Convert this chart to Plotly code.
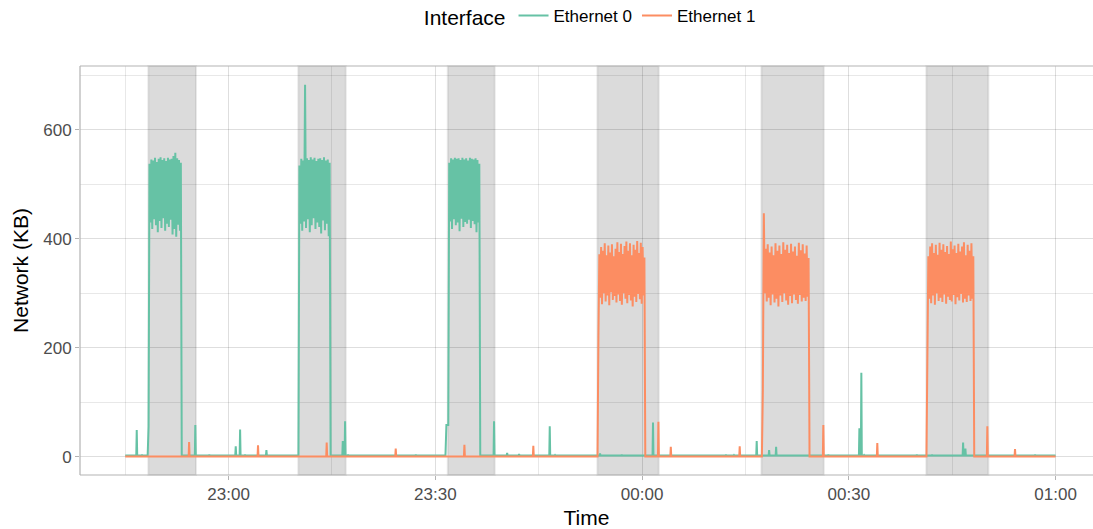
import plotly.graph_objects as go
from datetime import datetime, timedelta

# ---------------- data ----------------
series_names = ["Ethernet 0", "Ethernet 1"]
series_colors = ["#66C2A5", "#FC8D62"]

record_start = "22:45:00"
record_end = "01:00:00"
eth0_baseline = 2.0
eth1_baseline = 0.5

eth0_spike_times = ["22:46:40", "22:47:26", "22:55:10", "22:57:12", "23:01:02", "23:01:40",
                    "23:02:23", "23:05:29", "23:16:34", "23:16:54", "23:17:20", "23:27:10",
                    "23:38:31", "23:40:25", "23:42:09", "23:46:36", "23:47:22", "23:53:54",
                    "23:57:03", "00:01:35", "00:12:10", "00:13:20", "00:16:38", "00:18:26",
                    "00:19:27", "00:27:02", "00:31:32", "00:31:49", "00:32:13", "00:39:52",
                    "00:42:05", "00:46:35", "00:46:55", "00:57:02"]
eth0_spike_values = [49, 4, 58, 4, 19, 50,
                     4, 12, 29, 65, 4, 4,
                     65, 7, 5, 56, 3, 6,
                     4, 63, 4, 3, 29, 12,
                     18, 4, 52, 154, 3, 4,
                     4, 26, 15, 4]

eth1_spike_times = ["22:54:16", "23:04:16", "23:14:14", "23:24:15", "23:34:13", "23:44:13",
                    "00:02:22", "00:04:10", "00:14:10", "00:26:18", "00:34:08", "00:50:06",
                    "00:54:07"]
eth1_spike_values = [27, 21, 26, 15, 22, 20,
                     64, 18, 19, 58, 25, 56,
                     14]

eth0_burst_start = ["22:48:15", "23:10:08", "23:31:28"]
eth0_burst_end = ["22:53:12", "23:14:48", "23:36:31"]
eth0_burst_values = [
    [2, 55, 538, 430, 546, 418, 544, 436, 549, 425, 541, 412, 547, 433, 550, 420, 545, 438, 548,
     415, 543, 428, 549, 422, 546, 435, 547, 408, 552, 418, 558, 404, 548, 426, 545, 415, 540, 2],
    [2, 535, 428, 547, 415, 544, 432, 683, 420, 548, 436, 545, 412, 550, 425, 546, 438, 549, 418,
     543, 430, 547, 422, 548, 410, 545, 434, 550, 416, 544, 428, 546, 405, 540, 2],
    [2, 58, 58, 58, 540, 432, 548, 418, 546, 436, 549, 425, 547, 430, 548, 414, 545, 437, 549,
     422, 546, 431, 548, 428, 544, 435, 549, 420, 547, 433, 546, 427, 548, 412, 545, 430, 538, 2],
]

eth1_burst_start = ["23:53:32", "00:17:23", "00:41:16"]
eth1_burst_end = ["00:00:28", "00:24:18", "00:48:12"]
eth1_burst_values = [
    [0.5, 220, 372, 292, 385, 280, 378, 300, 392, 285, 370, 296, 388, 278, 375, 302, 390, 288,
     368, 295, 382, 283, 394, 298, 376, 286, 391, 279, 372, 300, 387, 290, 395, 282, 378, 297,
     392, 287, 370, 276, 389, 294, 380, 284, 396, 299, 374, 289, 393, 281, 385, 296, 366, 0.5],
    [0.5, 122, 447, 300, 382, 285, 390, 292, 375, 278, 386, 298, 370, 283, 392, 290, 378, 276,
     388, 296, 372, 284, 394, 300, 380, 287, 389, 279, 374, 295, 391, 282, 377, 298, 386, 288,
     369, 281, 393, 297, 379, 285, 390, 292, 373, 286, 388, 294, 365, 0.5],
    [0.5, 178, 368, 290, 386, 282, 392, 296, 374, 279, 389, 300, 371, 286, 393, 292, 380, 284,
     390, 298, 376, 281, 387, 294, 372, 288, 395, 285, 381, 297, 388, 280, 374, 293, 391, 287,
     377, 299, 386, 283, 394, 290, 370, 284, 389, 296, 378, 286, 392, 290, 368, 0.5],
]

shade_start = ["22:48:21", "23:10:07", "23:31:48", "23:53:31", "00:17:19", "00:41:15"]
shade_end = ["22:55:16", "23:17:00", "23:38:37", "00:02:25", "00:26:22", "00:50:15"]

x_tick_labels = ["23:00", "23:30", "00:00", "00:30", "01:00"]
x_minor_labels = ["22:45", "23:15", "23:45", "00:15", "00:45"]
y_ticks = [0, 200, 400, 600]
y_minor = [100, 300, 500, 700]
x_view = ["22:38:26", "01:05:26"]
y_view = [-33.6, 717.5]


# ---------------- helpers ----------------
def ts(hms):
    parts = [int(p) for p in hms.split(":")]
    while len(parts) < 3:
        parts.append(0)
    h, m, s = parts
    d = datetime(2024, 3, 1) + timedelta(hours=h, minutes=m, seconds=s)
    if h < 12:
        d += timedelta(days=1)
    return d


def build(baseline, spike_t, spike_v, b_start, b_end, b_vals):
    pts = [(ts(record_start), baseline), (ts(record_end), baseline)]
    half = timedelta(seconds=4)
    for t, v in zip(spike_t, spike_v):
        tt = ts(t)
        pts += [(tt - half, baseline), (tt, v), (tt + half, baseline)]
    for s, e, vals in zip(b_start, b_end, b_vals):
        t0, t1 = ts(s), ts(e)
        n = len(vals)
        step = (t1 - t0) / (n - 1)
        pts += [(t0 + step * i, v) for i, v in enumerate(vals)]
    pts.sort(key=lambda p: p[0])
    return [p[0] for p in pts], [p[1] for p in pts]


x0, y0 = build(eth0_baseline, eth0_spike_times, eth0_spike_values,
               eth0_burst_start, eth0_burst_end, eth0_burst_values)
x1, y1 = build(eth1_baseline, eth1_spike_times, eth1_spike_values,
               eth1_burst_start, eth1_burst_end, eth1_burst_values)

fig = go.Figure()
for name, color, xs, ys in zip(series_names, series_colors, [x0, x1], [y0, y1]):
    fig.add_trace(go.Scatter(x=xs, y=ys, mode="lines", name=name,
                             line=dict(color=color, width=2)))

for s, e in zip(shade_start, shade_end):
    fig.add_shape(type="rect", xref="x", yref="paper", x0=ts(s), x1=ts(e), y0=0, y1=1,
                  fillcolor="rgba(156,156,156,0.36)", line=dict(color="rgba(140,140,140,0.18)", width=2),
                  layer="below")

border = "#B3B3B3"
for (xa, ya, xb, yb) in [(0, 0, 0, 1), (0, 1, 1, 1), (0, 0, 1, 0)]:
    fig.add_shape(type="line", xref="paper", yref="paper", x0=xa, y0=ya, x1=xb, y1=yb,
                  line=dict(color=border, width=1.2), layer="above")

grid = "rgba(0,0,0,0.13)"
grid_minor = "rgba(0,0,0,0.09)"
font = "Liberation Sans, Arial, sans-serif"
fig.update_layout(
    width=1093, height=529,
    margin=dict(l=80, r=0, t=66, b=54),
    paper_bgcolor="white", plot_bgcolor="white",
    font=dict(family=font, color="#000000"),
    showlegend=True,
    legend=dict(orientation="h", xref="container", yref="container",
                x=0.541, y=1 - 17 / 529, xanchor="center", yanchor="middle",
                title=dict(text="Interface", font=dict(size=21, color="#000000"), side="left"),
                font=dict(size=17, color="#000000"), itemwidth=30,
                bgcolor="rgba(0,0,0,0)"),
    xaxis=dict(
        type="date", range=[ts(x_view[0]), ts(x_view[1])],
        tickmode="array", tickvals=[ts(t) for t in x_tick_labels], ticktext=x_tick_labels,
        showgrid=True, gridcolor=grid, gridwidth=1.1, zeroline=False, showline=False,
        ticks="outside", ticklen=4, tickcolor=border, tickwidth=1,
        tickfont=dict(size=17, color="#4D4D4D"),
        minor=dict(tickmode="array", tickvals=[ts(t) for t in x_minor_labels],
                   showgrid=True, gridcolor=grid_minor, gridwidth=0.8, ticks=""),
        title=dict(text="Time", font=dict(size=21, color="#000000"), standoff=6),
    ),
    yaxis=dict(
        range=y_view, tickmode="array", tickvals=y_ticks, ticktext=[str(v) for v in y_ticks],
        showgrid=True, gridcolor=grid, gridwidth=1.1, zeroline=False, showline=False,
        ticks="outside", ticklen=4, tickcolor=border, tickwidth=1,
        tickfont=dict(size=17, color="#4D4D4D"),
        minor=dict(tickmode="array", tickvals=y_minor, showgrid=True, gridcolor=grid_minor,
                   gridwidth=0.8, ticks=""),
        title=dict(text="Network (KB)", font=dict(size=21, color="#000000"), standoff=8),
    ),
)

fig.write_html("out.html")
